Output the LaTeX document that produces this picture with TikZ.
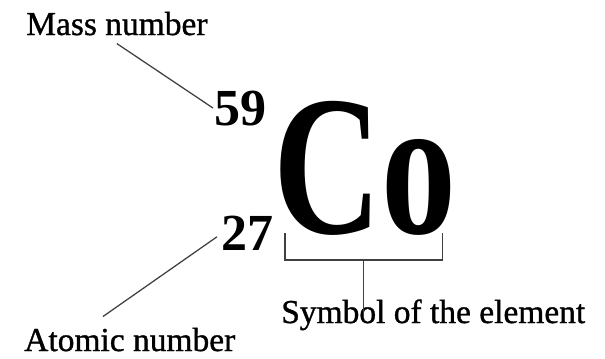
\documentclass[tikz,border=0pt]{standalone}
\usepackage{fontspec}
\setmainfont{Liberation Serif}
\newfontfamily\descfont{Liberation Serif}[UprightFeatures={FakeBold=1}]
\usetikzlibrary{calc}

\newcommand*{\pxw}{605}
\newcommand*{\pxh}{358}

\begin{document}
\begin{tikzpicture}
[
	x=0.025cm, y=-0.025cm,
	desc/.style={inner sep=0pt,anchor=base west,font=\descfont\fontsize{23.8}{28}\selectfont},
	nucl/.style={inner sep=0pt,anchor=base west,font=\bfseries\fontsize{37}{44}\selectfont},
	pointer/.style={black!75,line width=0.9pt}
]
	\useasboundingbox (0,0) rectangle (\pxw,\pxh);

	% symbol and numbers
	\node[inner sep=0pt,anchor=base west,xscale=0.75,font=\bfseries\fontsize{142}{150}\selectfont] (co) at (273,233) {Co};
	\node[nucl] (massno) at (214,125) {59};
	\node[nucl] (atomno) at (221,250) {27};

	% labels
	\node[desc] (masslbl) at (26,35) {Mass number};
	\node[desc] (atomlbl) at (24,351) {Atomic number};
	\node[desc] (symlbl) at (281,323) {Symbol of the element};

	% pointers
	\draw[pointer] ($(masslbl.south)+(0,8)$) -- ($(massno.west)+(-1,0)$);
	\draw[pointer] ($(atomlbl.north west)+(79,-11)$) -- ($(atomno.west)+(-4,4)$);

	% bracket under the symbol
	\draw[pointer] ($(co.base west)+(12,0)$) -- ++(0,27) coordinate (brl)
		-- ($(co.base east)+(-14,27)$) coordinate (brr) -- ++(0,-27);
	\coordinate (brm) at ($(brl)!0.5!(brr)$);
	\draw[pointer] (brm) -- ($(brm |- symlbl.base)+(0,-5)$);

\end{tikzpicture}
\end{document}
